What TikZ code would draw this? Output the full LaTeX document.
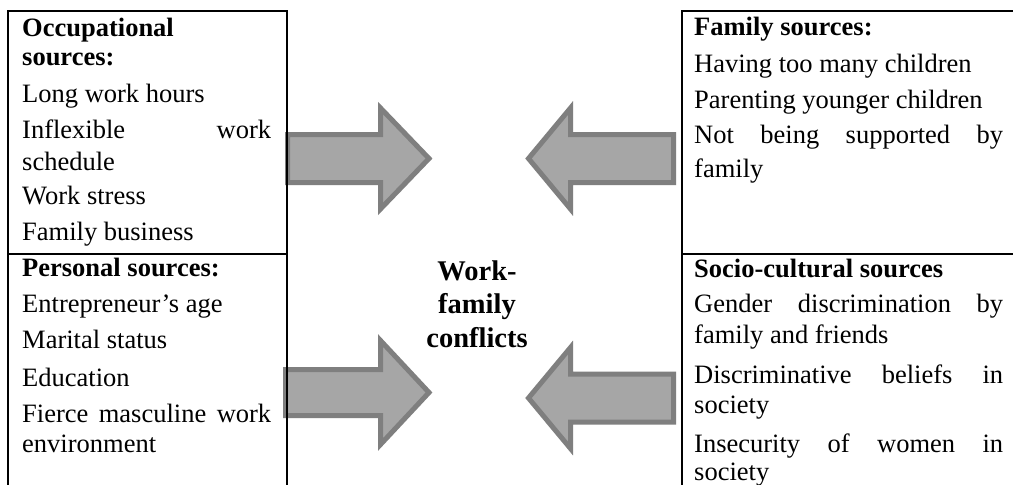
\documentclass[tikz,border=0pt]{standalone}
\usepackage{fontspec}
\setmainfont{Liberation Serif}
\definecolor{arrowfill}{HTML}{A6A6A6}
\definecolor{arrowedge}{HTML}{7F7F7F}
\begin{document}
\begin{tikzpicture}[x=1pt,y=-1pt,
  frame/.style={draw=black, line width=2pt, anchor=north west, inner sep=0pt},
  itemtext/.style={anchor=base west, inner sep=0pt, font=\fontsize{26.5}{30}\selectfont},
  headtext/.style={itemtext, font=\fontsize{26.5}{30}\selectfont\bfseries},
  hubtext/.style={anchor=base, inner sep=0pt, font=\fontsize{28.5}{33}\selectfont\bfseries},
  blockarrow/.style={fill=arrowfill, draw=arrowedge, line width=5pt, miter limit=10}]
\useasboundingbox (0,0) rectangle (1013,485);
\clip (0,0) rectangle (1013,485);
\fill[white] (0,0) rectangle (1013,485);

% block arrows pointing at the centre
\draw[blockarrow] (287.5,134.5) -- (380.5,134.5) -- (380.5,108) -- (429,158.5)
  -- (380.5,209) -- (380.5,182.5) -- (287.5,182.5) -- cycle;
\draw[blockarrow] (285.5,369.5) -- (380.5,369.5) -- (380.5,340.5) -- (429,392.5)
  -- (380.5,444.5) -- (380.5,415.5) -- (285.5,415.5) -- cycle;
\draw[blockarrow] (673.5,134.5) -- (570.5,134.5) -- (570.5,108) -- (528.5,158.5)
  -- (570.5,209) -- (570.5,182.5) -- (673.5,182.5) -- cycle;
\draw[blockarrow] (673.5,374) -- (570.5,374) -- (570.5,347.5) -- (528.5,398)
  -- (570.5,448.5) -- (570.5,422) -- (673.5,422) -- cycle;

% source boxes
\node[frame, minimum width=279pt, minimum height=243pt] (occbox) at (7,10) {};
\node[frame, minimum width=279pt, minimum height=250pt] (perbox) at (7,253) {};
\node[frame, minimum width=345pt, minimum height=243pt] (fambox) at (681,10) {};
\node[frame, minimum width=345pt, minimum height=250pt] (socbox) at (681,253) {};

% occupational sources
\node[headtext] (occ1) at (22,36) {Occupational};
\node[headtext] (occ2) at (22,65) {sources:};
\node[itemtext] (occ3) at (22,102) {Long work hours};
\node[itemtext] (occ4) at (22,138.5) {\makebox[249pt][l]{Inflexible\hfill work}};
\node[itemtext] (occ5) at (22,170) {schedule};
\node[itemtext] (occ6) at (22,204.5) {Work stress};
\node[itemtext] (occ7) at (22,240) {Family business};

% personal sources
\node[headtext] (per1) at (22,276) {Personal sources:};
\node[itemtext] (per2) at (22,312) {Entrepreneur’s age};
\node[itemtext] (per3) at (22,348) {Marital status};
\node[itemtext] (per4) at (22,386) {Education};
\node[itemtext] (per5) at (22,422) {\makebox[249pt][l]{Fierce\hfill masculine\hfill work}};
\node[itemtext] (per6) at (22,452) {environment};

% family sources
\node[headtext] (fam1) at (694,35) {Family sources:};
\node[itemtext] (fam2) at (694,72) {Having too many children};
\node[itemtext] (fam3) at (694,108) {Parenting younger children};
\node[itemtext] (fam4) at (694,143) {\makebox[309pt][l]{Not\hfill being\hfill supported\hfill by}};
\node[itemtext] (fam5) at (694,177) {family};

% socio-cultural sources
\node[headtext] (soc1) at (694,277) {Socio-cultural sources};
\node[itemtext] (soc2) at (694,312.5) {\makebox[309pt][l]{Gender\hfill discrimination\hfill by}};
\node[itemtext] (soc3) at (694,343.5) {family and friends};
\node[itemtext] (soc4) at (694,383) {\makebox[309pt][l]{Discriminative\hfill beliefs\hfill in}};
\node[itemtext] (soc5) at (694,413.5) {society};
\node[itemtext] (soc6) at (694,452) {\makebox[309pt][l]{Insecurity\hfill of\hfill women\hfill in}};
\node[itemtext] (soc7) at (694,480.5) {society};

% central outcome
\node[hubtext] (hub1) at (477,280.5) {Work-};
\node[hubtext] (hub2) at (477,313.5) {family};
\node[hubtext] (hub3) at (477,347) {conflicts};
\end{tikzpicture}
\end{document}
